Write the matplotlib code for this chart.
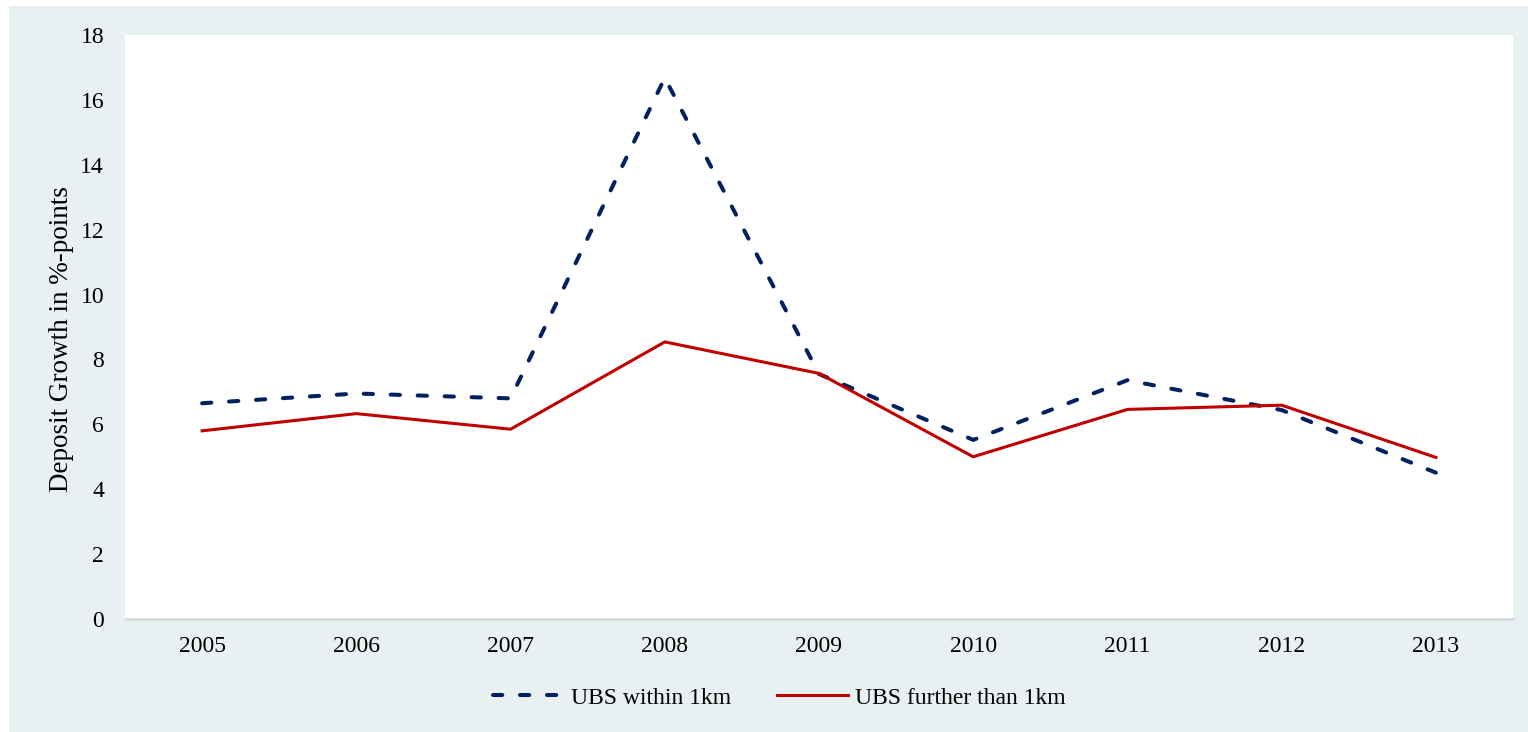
import matplotlib
matplotlib.use("Agg")
import matplotlib.pyplot as plt
from matplotlib.patches import Rectangle

years = ["2005", "2006", "2007", "2008", "2009", "2010", "2011", "2012", "2013"]
within_1km = [6.65, 6.95, 6.80, 16.68, 7.55, 5.52, 7.36, 6.44, 4.51]
further_1km = [5.80, 6.33, 5.85, 8.54, 7.57, 5.00, 6.46, 6.59, 4.98]
y_ticks = [0, 2, 4, 6, 8, 10, 12, 14, 16, 18]

NAVY = "#002060"
RED = "#C00000"
PANEL = "#E9F0F2"

plt.rcParams["font.family"] = ["Liberation Serif", "DejaVu Serif"]

fig = plt.figure(figsize=(15.28, 7.32), dpi=100)
fig.patch.set_facecolor("white")
# light panel behind the chart, small white margin top/left
fig.patches.append(Rectangle((9 / 1528, 0), 1, 1 - 6 / 732, transform=fig.transFigure,
                             facecolor=PANEL, edgecolor="none", zorder=-10))

ax = fig.add_axes([125 / 1528, 1 - 619 / 732, (1513 - 125) / 1528, (619 - 35) / 732])
ax.set_facecolor("white")

x = list(range(len(years)))
ax.plot(x, within_1km, color=NAVY, linewidth=2.9, linestyle=(0, (2.3, 4.4)),
        dash_capstyle="round", label="UBS within 1km", zorder=3)
ax.plot(x, further_1km, color=RED, linewidth=2.2, label="UBS further than 1km", zorder=3)

ax.set_xlim(-0.5, len(years) - 0.5)
ax.set_ylim(0, 18)
ax.set_xticks(x)
ax.set_xticklabels(years, fontsize=17)
ax.set_yticks(y_ticks)
ax.set_yticklabels([str(t) for t in y_ticks], fontsize=17)
ax.tick_params(axis="both", length=0)
ax.tick_params(axis="x", pad=12)
ax.tick_params(axis="y", pad=15)

for name, spine in ax.spines.items():
    spine.set_visible(name == "bottom")
ax.spines["bottom"].set_color("#D9D9D9")
ax.spines["bottom"].set_linewidth(1.8)

ax.set_ylabel("Deposit Growth in %-points", fontsize=19.5, va="center")
ax.yaxis.set_label_coords((62 - 125) / 1388, (619 - 339) / 584)

fig.legend(loc="center", bbox_to_anchor=(779.5 / 1528, 1 - 698 / 732), ncol=2, frameon=False,
           fontsize=17, handlelength=3.0, handletextpad=0.3, columnspacing=1.95)

fig.savefig("out.png", dpi=100, facecolor="white")
